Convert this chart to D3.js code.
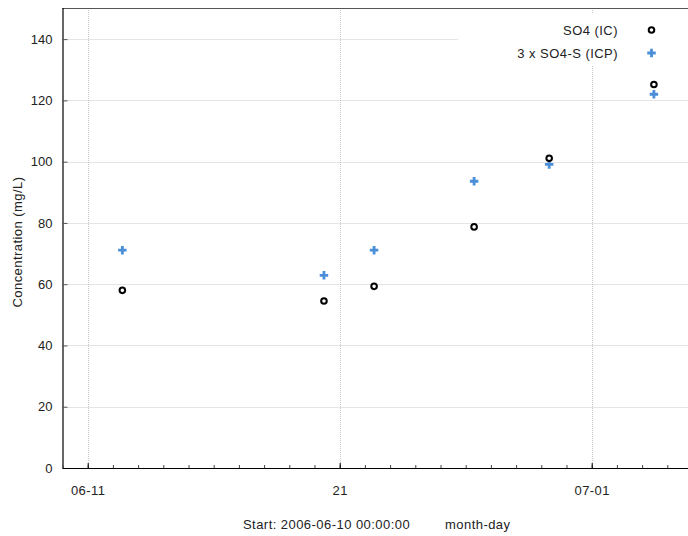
<!DOCTYPE html>
<html>
<head>
<meta charset="utf-8">
<script src="https://cdn.jsdelivr.net/npm/d3@7"></script>
<style>
  html, body { margin: 0; padding: 0; background: #fff; }
  svg { display: block; font-family: "Liberation Sans", Arial, sans-serif; }
  svg text.wide { letter-spacing: 0.45px; }
</style>
</head>
<body>
<svg id="chart" width="688" height="536"></svg>
<script>
// Sample dates (UTC) and measured sulfate concentrations, mg/L
const sampleDates = [
  "2006-06-12T09:00:00Z",
  "2006-06-20T09:00:00Z",
  "2006-06-22T08:45:00Z",
  "2006-06-26T08:00:00Z",
  "2006-06-29T07:30:00Z",
  "2006-07-03T11:15:00Z"
];
const so4IC = [58.0, 54.5, 59.3, 78.7, 101.1, 125.2];
const so4sICPx3 = [71.1, 62.9, 71.1, 93.6, 99.1, 122.0];
const seriesNames = ["SO4 (IC)", "3 x SO4-S (ICP)"];
const yTicks = [0, 20, 40, 60, 80, 100, 120, 140];
const xMajorTicks = ["2006-06-11T00:00:00Z", "2006-06-21T00:00:00Z", "2006-07-01T00:00:00Z"];
const xMajorLabels = ["06-11", "21", "07-01"];

const svg = d3.select("#chart");
const plotLeft = 62.5, plotBottom = 468, plotTop = 8, plotRight = 688;

const x = d3.scaleUtc()
  .domain([new Date("2006-06-10T00:00:00Z"), new Date("2006-07-05T00:00:00Z")])
  .range([plotLeft, plotLeft + 25 * 25.2]);
const y = d3.scaleLinear().domain([0, 150]).range([plotBottom, plotTop + 0.5]);

const g = svg.append("g");

// grid lines
g.selectAll("line.hgrid").data(yTicks.filter(v => v > 0)).join("line")
  .attr("x1", plotLeft).attr("x2", plotRight)
  .attr("y1", d => Math.round(y(d)) + 0.5).attr("y2", d => Math.round(y(d)) + 0.5)
  .attr("stroke", "#c8c8c8").attr("stroke-width", 1).attr("stroke-dasharray", "1,1");
g.selectAll("line.vgrid").data(xMajorTicks.map(d => new Date(d))).join("line")
  .attr("x1", d => Math.round(x(d)) + 0.5).attr("x2", d => Math.round(x(d)) + 0.5)
  .attr("y1", plotTop).attr("y2", plotBottom)
  .attr("stroke", "#c8c8c8").attr("stroke-width", 1).attr("stroke-dasharray", "1,1");

// top frame line
g.append("line").attr("x1", plotLeft).attr("x2", plotRight).attr("y1", plotTop + 0.5).attr("y2", plotTop + 0.5)
  .attr("stroke", "#555").attr("stroke-width", 1);

// legend box (opaque, covers grid)
const legend = svg.append("g");
legend.append("rect").attr("x", 458).attr("y", 13).attr("width", 240).attr("height", 53).attr("fill", "#fff");

// y axis
const yAxis = d3.axisLeft(y).tickValues(yTicks).tickSize(-5).tickPadding(10).tickFormat(d3.format("d"));
const ya = svg.append("g").attr("transform", `translate(${plotLeft},0)`).call(yAxis);
ya.select(".domain").attr("d", `M0.5,${plotTop}V${plotBottom}`).attr("stroke", "#000").attr("stroke-width", 1.2);
ya.selectAll(".tick line").attr("stroke", "#555");
ya.selectAll(".tick text").attr("font-size", 13).attr("fill", "#222").attr("font-family", "Liberation Sans, Arial, sans-serif");

// x axis: daily minor ticks, labelled major ticks
const xMinor = d3.axisBottom(x).ticks(d3.utcDay.every(1)).tickSize(-3).tickFormat("");
const xm = svg.append("g").attr("transform", `translate(0,${plotBottom})`).call(xMinor);
xm.select(".domain").remove();
xm.selectAll(".tick line").attr("stroke", "#444");

const labelOf = new Map(xMajorTicks.map((d, i) => [new Date(d).getTime(), xMajorLabels[i]]));
const xAxis = d3.axisBottom(x).tickValues(xMajorTicks.map(d => new Date(d)))
  .tickSize(-5).tickPadding(18).tickFormat(d => labelOf.get(d.getTime()));
const xa = svg.append("g").attr("transform", `translate(0,${plotBottom})`).call(xAxis);
xa.select(".domain").attr("d", `M${plotLeft},0.5H${plotRight}`).attr("stroke", "#000").attr("stroke-width", 1.2);
xa.selectAll(".tick line").attr("stroke", "#000");
xa.selectAll(".tick text").attr("font-size", 13).attr("fill", "#222").attr("class", "wide")
  .attr("font-family", "Liberation Sans, Arial, sans-serif");

// axis titles
svg.append("text").attr("class", "wide").attr("transform", "translate(22,242) rotate(-90)")
  .attr("text-anchor", "middle").attr("font-size", 13).attr("fill", "#222")
  .text("Concentration (mg/L)");
svg.append("text").attr("class", "wide").attr("x", 243).attr("y", 529).attr("font-size", 13).attr("fill", "#222")
  .text("Start: 2006-06-10 00:00:00");
svg.append("text").attr("class", "wide").attr("x", 445).attr("y", 529).attr("font-size", 13).attr("fill", "#222")
  .text("month-day");

// markers
const cross = d3.symbol().type(d3.symbolCross).size(40);
function drawCircles(sel, pts) {
  sel.selectAll("circle").data(pts).join("circle")
    .attr("cx", d => d[0]).attr("cy", d => d[1]).attr("r", 2.8)
    .attr("fill", "#fff").attr("stroke", "#000").attr("stroke-width", 2);
}
function drawCrosses(sel, pts) {
  sel.selectAll("path").data(pts).join("path")
    .attr("d", cross).attr("transform", d => `translate(${d[0]},${d[1]})`)
    .attr("fill", "#4a8fd8");
}

const dates = sampleDates.map(d => new Date(d));
drawCrosses(svg.append("g"), dates.map((d, i) => [x(d), y(so4sICPx3[i])]));
drawCircles(svg.append("g"), dates.map((d, i) => [x(d), y(so4IC[i])]));

// legend entries
const legendRows = [30, 53];
legend.selectAll("text").data(seriesNames).join("text")
  .attr("class", "wide")
  .attr("x", 618).attr("y", (d, i) => legendRows[i] + 4.5)
  .attr("text-anchor", "end").attr("font-size", 13).attr("fill", "#222")
  .text(d => d);
drawCircles(legend.append("g"), [[651.5, legendRows[0]]]);
drawCrosses(legend.append("g"), [[651.5, legendRows[1]]]);
</script>
</body>
</html>
